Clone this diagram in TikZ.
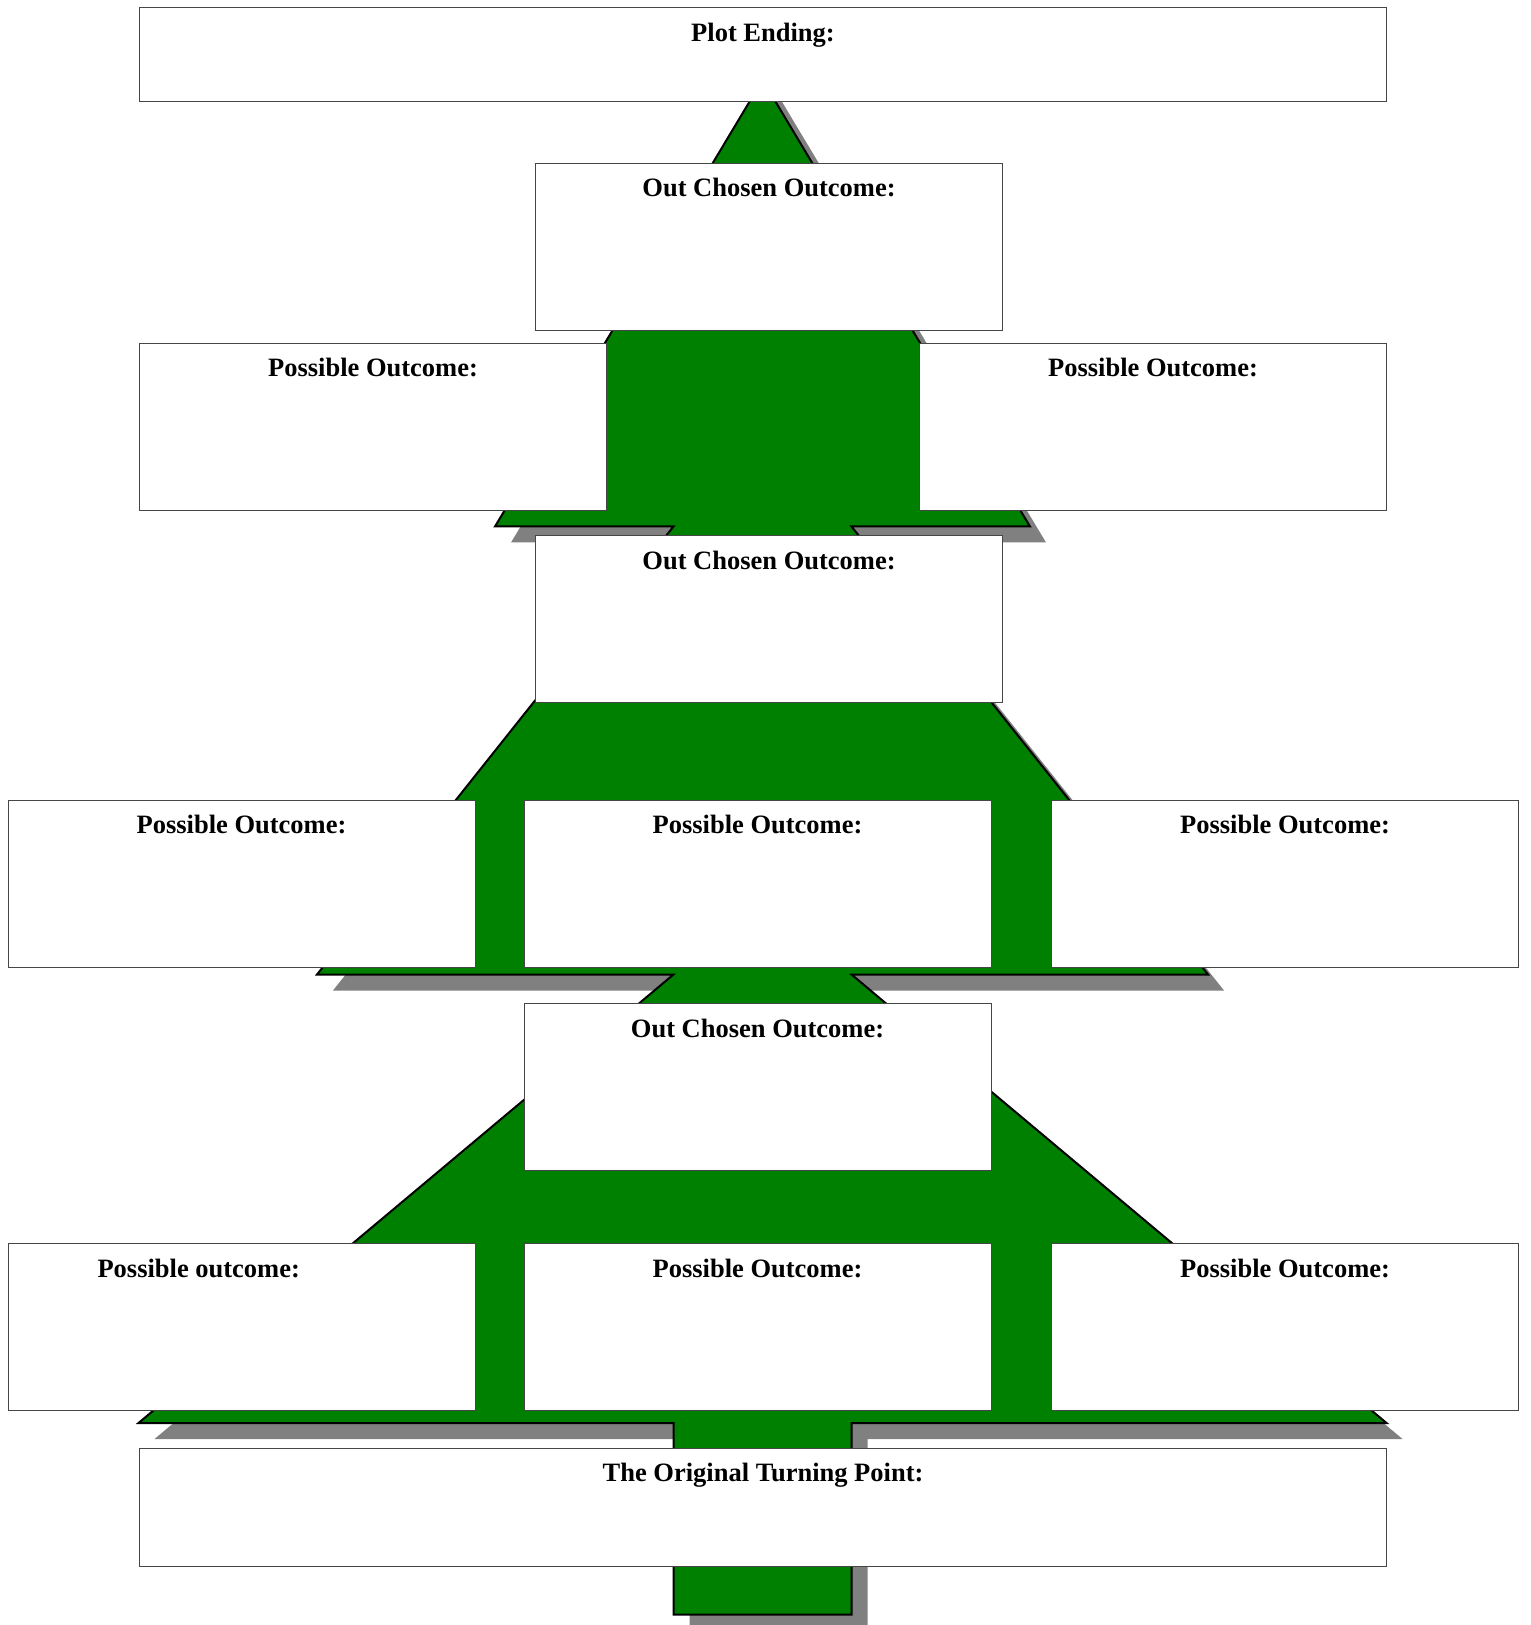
\documentclass[tikz,border=0pt]{standalone}
\usepackage{fontspec}
\setmainfont{Liberation Serif}
\definecolor{treegreen}{RGB}{0,128,0}
\definecolor{shadowgray}{RGB}{128,128,128}
\definecolor{boxgray}{RGB}{70,70,70}
\tikzset{
  outcome/.style={draw=boxgray,fill=white,line width=0.5pt,inner sep=0pt,anchor=north west,minimum width=233.5pt,minimum height=83.5pt},
  widebox/.style={outcome,minimum width=623.5pt},
  heading/.style={anchor=base,inner sep=0pt,font=\fontsize{13.25pt}{16pt}\selectfont\bfseries}
}
\begin{document}
\begin{tikzpicture}[x=0.5pt,y=-0.5pt]
\useasboundingbox (0,0) rectangle (1530,1625);
% shadow of the tree
\fill[shadowgray,shift={(16,16)}] (762.5,80) -- (1030,526.5) -- (851.5,526.5) -- (1208,974.5) -- (851.5,974.5) -- (1386.5,1423) -- (851.5,1423) -- (851.5,1614.5) -- (673.5,1614.5) -- (673.5,1423) -- (138.5,1423) -- (673.5,974.5) -- (317,974.5) -- (673.5,526.5) -- (495,526.5) -- cycle;
% tree
\draw[fill=treegreen,draw=black,line width=1pt] (762.5,80) -- (1030,526.5) -- (851.5,526.5) -- (1208,974.5) -- (851.5,974.5) -- (1386.5,1423) -- (851.5,1423) -- (851.5,1614.5) -- (673.5,1614.5) -- (673.5,1423) -- (138.5,1423) -- (673.5,974.5) -- (317,974.5) -- (673.5,526.5) -- (495,526.5) -- cycle;

\node[widebox,minimum height=47pt] (ending) at (139,7.5) {};
\node[heading] (endingtitle) at ([yshift=-17pt]ending.north) {Plot Ending:};

\node[outcome] (chosenA) at (535,163) {};
\node[heading] (chosenAtitle) at ([yshift=-17pt]chosenA.north) {Out Chosen Outcome:};

\node[outcome] (possAl) at (139,343) {};
\node[heading] (possAltitle) at ([yshift=-17pt]possAl.north) {Possible Outcome:};
\node[outcome] (possAr) at (919,343) {};
\node[heading] (possArtitle) at ([yshift=-17pt]possAr.north) {Possible Outcome:};

\node[outcome] (chosenB) at (535,535) {};
\node[heading] (chosenBtitle) at ([yshift=-17pt]chosenB.north) {Out Chosen Outcome:};

\node[outcome] (possBl) at (7.5,799.5) {};
\node[heading] (possBltitle) at ([yshift=-17pt]possBl.north) {Possible Outcome:};
\node[outcome] (possBm) at (523.5,799.5) {};
\node[heading] (possBmtitle) at ([yshift=-17pt]possBm.north) {Possible Outcome:};
\node[outcome] (possBr) at (1051,799.5) {};
\node[heading] (possBrtitle) at ([yshift=-17pt]possBr.north) {Possible Outcome:};

\node[outcome] (chosenC) at (523.5,1003) {};
\node[heading] (chosenCtitle) at ([yshift=-17pt]chosenC.north) {Out Chosen Outcome:};

\node[outcome] (possCl) at (7.5,1243) {};
\node[heading] (possCltitle) at ([xshift=-21.4pt,yshift=-17pt]possCl.north) {Possible outcome:};
\node[outcome] (possCm) at (523.5,1243) {};
\node[heading] (possCmtitle) at ([yshift=-17pt]possCm.north) {Possible Outcome:};
\node[outcome] (possCr) at (1051,1243) {};
\node[heading] (possCrtitle) at ([yshift=-17pt]possCr.north) {Possible Outcome:};

\node[widebox,minimum height=59.25pt] (turning) at (139,1447.5) {};
\node[heading] (turningtitle) at ([yshift=-17pt]turning.north) {The Original Turning Point:};
\end{tikzpicture}
\end{document}
